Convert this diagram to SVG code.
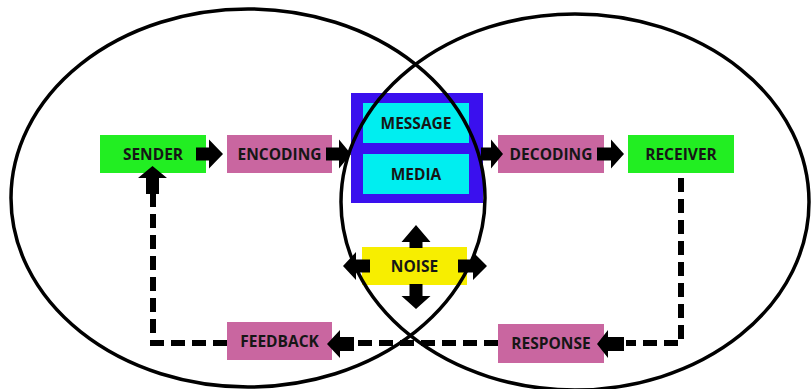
<svg xmlns="http://www.w3.org/2000/svg" width="811" height="389" viewBox="0 0 811 389">
  <style>
    .lbl { font-family: "Open Sans", "Liberation Sans", sans-serif; font-weight: bold; font-size: 15.5px; fill: #161616; text-anchor: middle; }
    .green { fill: #22ee22; }
    .pink { fill: #c966a0; }
    .cyan { fill: #00eef0; }
    .blue { fill: #3a10ee; }
    .yellow { fill: #f7ee00; }
    .arrow { fill: #000; }
    .dash { fill: none; stroke: #000; stroke-width: 6; stroke-dasharray: 14 7; }
    .ring { fill: none; stroke: #000; stroke-width: 3.5; }
  </style>

  <rect width="811" height="389" fill="#fff"/>

  <!-- process boxes -->
  <g id="sender">
    <rect class="green" x="100" y="135" width="106" height="38"/>
    <text class="lbl" x="153" y="159.5">SENDER</text>
  </g>
  <g id="encoding">
    <rect class="pink" x="227" y="135" width="105" height="38"/>
    <text class="lbl" x="279.5" y="159.5">ENCODING</text>
  </g>
  <g id="channel">
    <rect class="blue" x="351" y="93" width="132" height="110"/>
    <g id="message">
      <rect class="cyan" x="363" y="103" width="106" height="40"/>
      <text class="lbl" x="416" y="128.5">MESSAGE</text>
    </g>
    <g id="media">
      <rect class="cyan" x="363" y="154" width="106" height="40"/>
      <text class="lbl" x="416" y="179.5">MEDIA</text>
    </g>
  </g>
  <g id="decoding">
    <rect class="pink" x="498" y="135" width="106" height="38"/>
    <text class="lbl" x="551" y="159.5">DECODING</text>
  </g>
  <g id="receiver">
    <rect class="green" x="628" y="135" width="106" height="38"/>
    <text class="lbl" x="681" y="159.5">RECEIVER</text>
  </g>
  <g id="noise">
    <rect class="yellow" x="362" y="247" width="105" height="38"/>
    <text class="lbl" x="414.5" y="271.5">NOISE</text>
  </g>
  <g id="feedback">
    <rect class="pink" x="227" y="322" width="105" height="38"/>
    <text class="lbl" x="279.5" y="346.5">FEEDBACK</text>
  </g>
  <g id="response">
    <rect class="pink" x="498" y="324" width="106" height="39"/>
    <text class="lbl" x="551" y="348.5">RESPONSE</text>
  </g>

  <!-- connectors: block arrows and dashed feedback loop -->
  <g id="connectors">
    <!-- forward chain -->
    <path class="arrow" d="M196,147.5 H209 V139.5 L223,154 L209,168.5 V160.5 H196 Z"/>
    <path class="arrow" d="M326,147.5 H339 V139.5 L351,154 L339,168.5 V160.5 H326 Z"/>
    <path class="arrow" d="M481,147.5 H491 V139.5 L503,154 L491,168.5 V160.5 H481 Z"/>
    <path class="arrow" d="M597,147.5 H611 V139.5 L624,154 L611,168.5 V160.5 H597 Z"/>

    <!-- noise spreading outward -->
    <path class="arrow" d="M409.5,248 V242 H401.5 L416,225 L430.5,242 H422.5 V248 Z"/>
    <path class="arrow" d="M409.5,284 V296 H401.5 L416,309 L430.5,296 H422.5 V284 Z"/>
    <path class="arrow" d="M370,259.5 H356 V252 L343,266 L356,280 V272.5 H370 Z"/>
    <path class="arrow" d="M458,259.5 H473 V252 L487,266 L473,280 V272.5 H458 Z"/>

    <!-- return path -->
    <path class="dash" d="M681,178 V343 H626"/>
    <path class="arrow" d="M624,337 H608 V330 L597,344 L608,358 V351 H624 Z"/>
    <path class="dash" d="M498,343 H354"/>
    <path class="arrow" d="M354,337 H340 V330 L327,344 L340,358 V351 H354 Z"/>
    <path class="dash" d="M227,343 H153 V193"/>
    <path class="arrow" d="M146,194 V178 H138 L152.5,166 L167,178 H159 V194 Z"/>
  </g>

  <!-- sender and receiver fields of experience -->
  <g id="fields">
    <ellipse class="ring" cx="248" cy="198" rx="237" ry="189"/>
    <ellipse class="ring" cx="575" cy="202" rx="234" ry="188"/>
  </g>
</svg>
